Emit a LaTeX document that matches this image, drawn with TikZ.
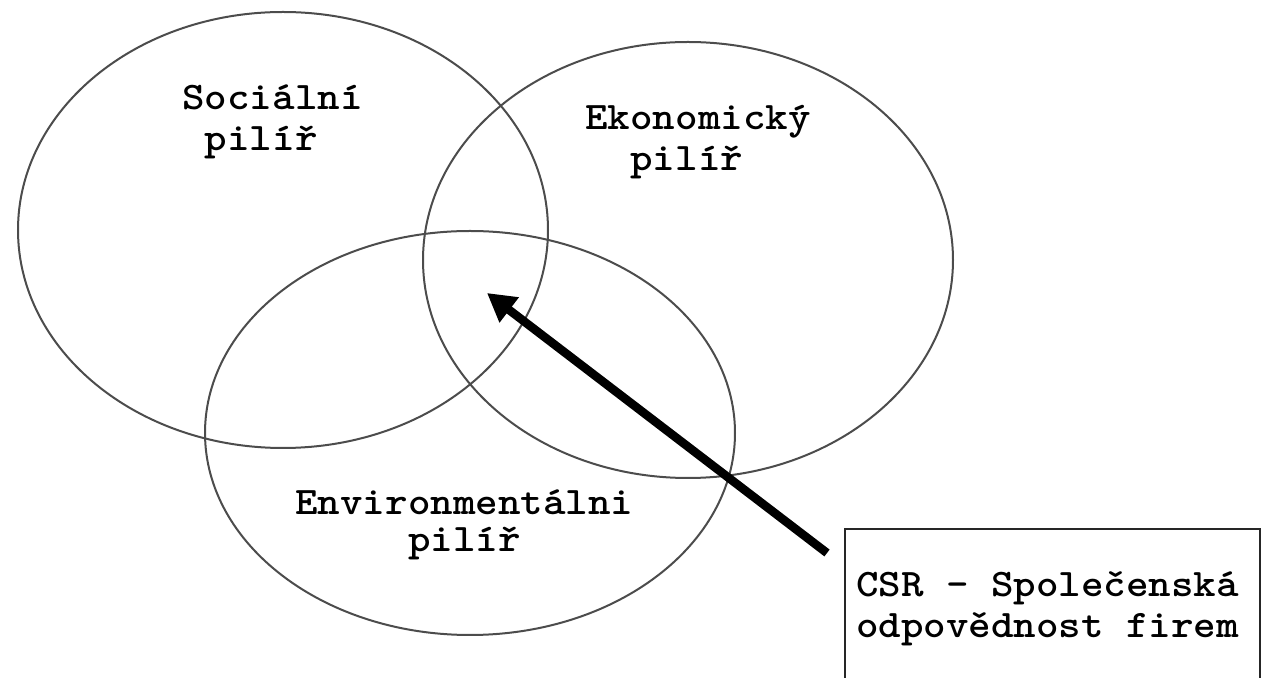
\documentclass[tikz,border=0pt]{standalone}
\usepackage{fontspec}
\newfontfamily\pilirfont{lmmonolt10-bold.otf}[FakeStretch=1.1]
\DeclareRobustCommand\csrpismo{\pilirfont\fontsize{19.5pt}{20.5pt}\selectfont}
\usetikzlibrary{shapes.geometric, positioning, arrows.meta}

\begin{document}
\begin{tikzpicture}[x=0.5pt, y=-0.5pt,
  pilir/.style={draw=black!70, line width=1pt, ellipse, minimum width=265pt, inner sep=0pt},
  popis/.style={font=\csrpismo, align=left, inner sep=0pt, anchor=base west},
  csrbox/.style={draw=black!85, line width=1pt, anchor=north west, minimum width=207.5pt, minimum height=80pt,
    inner xsep=5.5pt, text width=196.5pt, align=flush left, font=\csrpismo},
  sipka/.style={line width=4.3pt, -{Triangle[length=14pt, width=15pt]}}]
  \useasboundingbox (0,0) rectangle (1266,678);

  % tri pilire
  \foreach \jm/\x/\y/\h in {soc/283/230/218pt, eko/688/260/218pt, env/470/433/202pt}{
    \node[pilir, minimum height=\h] (\jm) at (\x,\y) {};
  }
  \node[popis] (socpopis) at (182,151) {Sociální\\\phantom{S}pilíř};
  \node[popis] (ekopopis) at (585,171) {Ekonomický\\\phantom{Ek}pilíř};
  \node[popis] (envpopis) at (295,552) {Environmentálni\\[-2pt]\phantom{Envir}pilíř};

  % CSR
  \node[csrbox] (csr) at (844,528) {CSR - Společenská\\odpovědnost firem};
  \coordinate (pata) at (827,553);
  \coordinate (stred) at (487,293);
  \draw[sipka] (pata) -- (stred);
\end{tikzpicture}
\end{document}
